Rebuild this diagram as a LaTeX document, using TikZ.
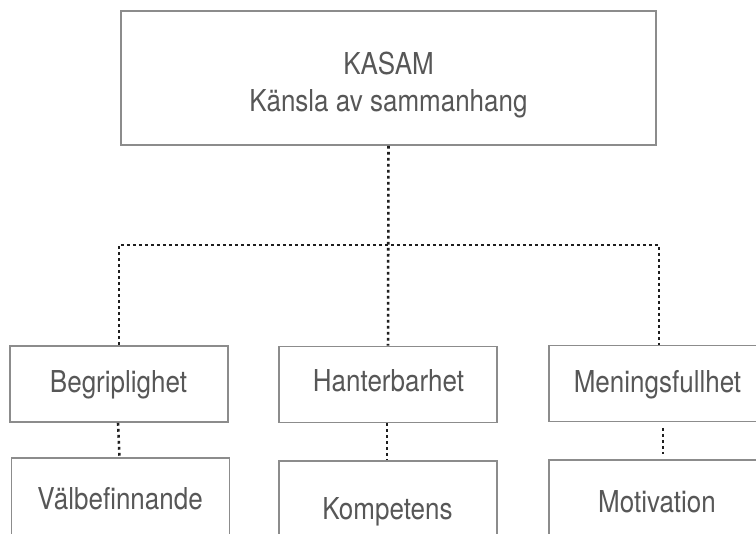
\documentclass[tikz,border=0pt]{standalone}
\usepackage{fontspec}
\setmainfont{TeX Gyre Heros}
\definecolor{boxgray}{HTML}{8C8C8C}
\definecolor{txtgray}{HTML}{575757}
\definecolor{dotdark}{HTML}{1E1E1E}
\newcommand\vstretch[1]{\scalebox{1}[1.16]{#1}}
\begin{document}
\begin{tikzpicture}[x=0.75pt,y=-0.75pt,
  box/.style={draw=boxgray, line width=1.4pt, inner sep=0pt, fill=none},
  smallbox/.style={box, minimum width=163.5pt, minimum height=57pt},
  lowbox/.style={box, minimum width=163.5pt, minimum height=67.5pt},
  lbl/.style={anchor=base, inner sep=0pt, text=txtgray, font=\fontsize{19.5pt}{23pt}\selectfont},
  dotline/.style={draw=dotdark, line width=1.9pt, dash pattern=on 2.1pt off 2.4pt}]
\useasboundingbox (0,0) rectangle (756,533);
\clip (0,0) rectangle (756,533);
\fill[white] (0,0) rectangle (756,533);
% boxes
\node[box, minimum width=401.25pt, minimum height=100.5pt] (top) at (388.5,78) {};
\node[smallbox] (beg) at (119,384) {};
\node[smallbox] (han) at (388,384.5) {};
\node[smallbox] (men) at (658,383.5) {};
\node[lowbox] (val) at (120.5,503) {};
\node[lowbox] (kom) at (388,506) {};
\node[lowbox] (mot) at (658,505) {};
% texts
\node[lbl] (kasam) at (388.5,74) {\vstretch{KASAM}};
\node[lbl] (kansla) at (388.5,111) {\vstretch{Känsla av sammanhang}};
\node[lbl] (tbeg) at (118.5,392) {\vstretch{Begriplighet}};
\node[lbl] (than) at (388.5,391) {\vstretch{Hanterbarhet}};
\node[lbl] (tmen) at (657.5,392) {\vstretch{Meningsfullhet}};
\node[lbl] (tval) at (120,509) {\vstretch{Välbefinnande}};
\node[lbl] (tkom) at (387.5,519) {\vstretch{Kompetens}};
\node[lbl] (tmot) at (657,512) {\vstretch{Motivation}};
% connectors
\coordinate (hub) at (388.5,245);
\draw[dotline] (top.south) -- (han.north);
\draw[dotline] (beg.north) |- (hub) -| ([xshift=0.75pt]men.north);
\draw[dotline] ([xshift=-0.75pt]beg.south) -- ([xshift=-0.75pt]val.north);
\draw[dotline] ([xshift=-0.75pt]han.south) -- ([xshift=-0.75pt]kom.north);
\draw[dotline, shorten <=4pt, shorten >=4pt] ([xshift=3.75pt]men.south) -- ([xshift=3.75pt]mot.north);
\end{tikzpicture}
\end{document}
